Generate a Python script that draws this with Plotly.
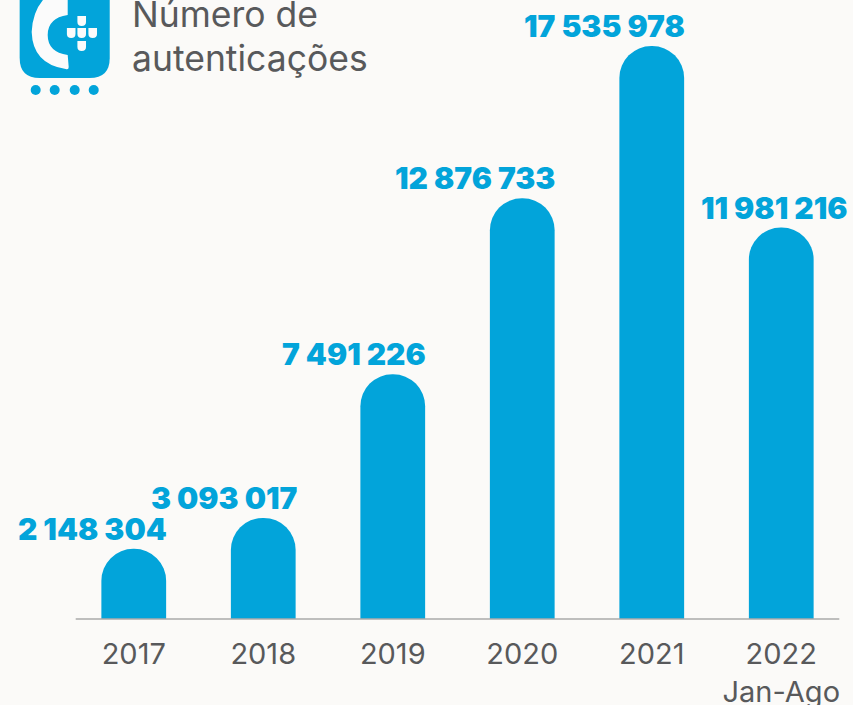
import plotly.graph_objects as go

years = ["2017", "2018", "2019", "2020", "2021", "2022<br>Jan-Ago"]
values = [2148304, 3093017, 7491226, 12876733, 17535978, 11981216]
labels = ["2 148 304", "3 093 017", "7 491 226", "12 876 733", "17 535 978", "11 981 216"]
label_shift = [-41, -39, -39, -47, -47, -7]
title_lines = ["Número de", "autenticações"]

BLUE = "#02a4da"
GREY = "#58595b"
BG = "#fbfaf8"
W, H = 853, 705
L, R, T, B = 69.3, 845.7, 31, 619
FONT = "Inter"


def px(x):
    return (x - L) / (R - L)


def py(y):
    return (B - y) / (B - T)


def path(cmds):
    out = []
    for c in cmds:
        if isinstance(c, str):
            out.append(c)
        else:
            out.append(f"{px(c[0]):.5f},{py(c[1]):.5f}")
    return " ".join(out)


def icon(cmds, color):
    return dict(type="path", xref="paper", yref="paper", fillcolor=color, line_width=0, layer="above", path=path(cmds))


shapes = [
    icon(["M", (20, -5), "L", (110, -5), "L", (110, 58), "Q", (110, 78), (90, 78),
          "L", (40, 78), "Q", (20, 78), (20, 58), "Z"], BLUE),
    icon(["M", (68, -3), "L", (68, 15), "Q", (48, 18), (48, 35), "Q", (48, 52), (68, 55),
          "L", (69, 67), "Q", (69, 70), (66, 69), "Q", (33, 64), (32, 32),
          "Q", (33, 10), (46, -3), "Z"], "#fbfbfb"),
]
for cx, cy in [(82, 21), (71.5, 33), (82, 33), (93, 33), (82, 46)]:
    shapes.append(icon(["M", (cx - 4.3, cy - 5), "L", (cx + 4.3, cy - 5), "L", (cx + 4.3, cy + 1),
                        "Q", (cx + 4.3, cy + 5), (cx, cy + 5), "Q", (cx - 4.3, cy + 5), (cx - 4.3, cy + 1), "Z"], "#fbfbfb"))
for cx in [36, 55, 75, 94]:
    shapes.append(dict(type="circle", xref="paper", yref="paper", fillcolor=BLUE, line_width=0, layer="above",
                       x0=px(cx - 5), x1=px(cx + 5), y0=py(95), y1=py(85)))
shapes.append(dict(type="line", xref="paper", yref="paper", x0=px(76), x1=px(839), y0=py(619), y1=py(619),
                   line=dict(color="#aaaaaa", width=1.5), layer="above"))

annotations = [
    dict(x=i, y=v, text=t, showarrow=False, xshift=s, yshift=0, yanchor="bottom", xanchor="center",
         font=dict(family=FONT, size=30, color=BLUE, weight=900))
    for i, (v, t, s) in enumerate(zip(values, labels, label_shift))
]
for line, ycenter in zip(title_lines, [15, 58]):
    annotations.append(dict(xref="paper", yref="paper", x=px(130), y=py(ycenter), xanchor="left", yanchor="middle",
                            text=line, showarrow=False, font=dict(family=FONT, size=35.5, color=GREY)))

fig = go.Figure(go.Bar(x=years, y=values, marker=dict(color=BLUE, line_width=0), width=0.5, hoverinfo="skip"))
fig.update_layout(
    width=W, height=H, autosize=False, paper_bgcolor=BG, plot_bgcolor=BG, showlegend=False,
    margin=dict(l=L, r=W - R, t=T, b=H - B, pad=0, autoexpand=False), barcornerradius=32,
    shapes=shapes, annotations=annotations,
)
fig.update_xaxes(type="category", tickmode="array", tickvals=years, ticktext=years, showline=False, showgrid=False,
                 automargin=False, ticks="outside", ticklen=9, tickcolor="rgba(0,0,0,0)",
                 tickfont=dict(family=FONT, size=29, color=GREY), range=[-0.5, 5.5])
fig.update_yaxes(range=[0, 17535978 * (B - T) / 573], visible=False, showgrid=False, zeroline=False, automargin=False)
fig.write_html("out.html", config=dict(displayModeBar=False),
               post_script="document.body.style.margin='0';document.body.style.background='%s';" % BG)
